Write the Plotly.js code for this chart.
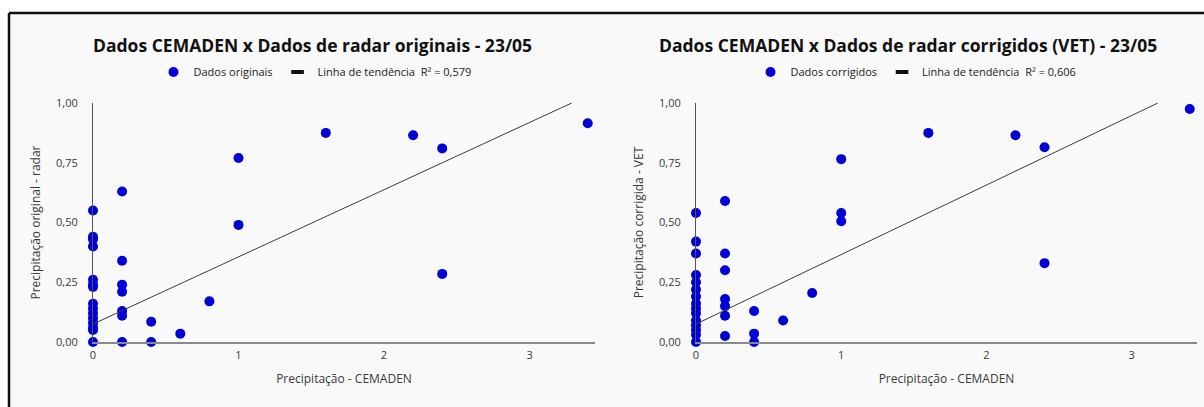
<!DOCTYPE html>
<html>
<head>
<meta charset="utf-8">
<script src="https://cdn.plot.ly/plotly-3.0.1.min.js"></script>
<style>
html,body{margin:0;padding:0;background:#ffffff;}
#chart{width:1204px;height:407px;}
</style>
</head>
<body>
<div id="chart"></div>
<script>
// ---- Data ----
// Left chart: CEMADEN vs original radar
const origX = [0,0,0,0,0,0,0,0,0,0,0,0,0,0,0,
               0.2,0.2,0.2,0.2,0.2,0.2,0.2,
               0.4,0.4, 0.6, 0.8, 1.0,1.0, 1.6, 2.2, 2.4,2.4, 3.4];
const origY = [0.55,0.44,0.43,0.40,0.26,0.24,0.23,0.16,0.14,0.12,0.10,0.08,0.06,0.05,0.0,
               0.63,0.34,0.24,0.21,0.13,0.11,0.0,
               0.085,0.0, 0.035, 0.17, 0.77,0.49, 0.875, 0.865, 0.81,0.285, 0.915];
const origTrendX = [0, 3.29];
const origTrendY = [0.075, 1.0];
const origR2 = "0,579";

// Right chart: CEMADEN vs corrected radar (VET)
const corrX = [0,0,0,0,0,0,0,0,0,0,0,0,0,0,0,
               0.2,0.2,0.2,0.2,0.2,0.2,0.2,
               0.4,0.4,0.4, 0.6, 0.8, 1.0,1.0,1.0, 1.6, 2.2, 2.4,2.4, 3.4];
const corrY = [0.54,0.42,0.37,0.28,0.25,0.22,0.19,0.16,0.14,0.12,0.09,0.07,0.05,0.03,0.0,
               0.59,0.37,0.30,0.18,0.15,0.11,0.025,
               0.13,0.035,0.0, 0.09, 0.205, 0.765,0.54,0.505, 0.875, 0.865, 0.815,0.33, 0.975];
const corrTrendX = [0, 3.18];
const corrTrendY = [0.075, 1.0];
const corrR2 = "0,606";

const xTicks = [0,1,2,3];
const yTicks = [0,0.25,0.5,0.75,1];

const titles = ["Dados CEMADEN x Dados de radar originais - 23/05",
                "Dados CEMADEN x Dados de radar corrigidos (VET) - 23/05"];
const xTitle = "Precipitação - CEMADEN";
const yTitles = ["Precipitação original - radar", "Precipitação corrigida - VET"];
const seriesNames = ["Dados originais", "Dados corrigidos"];
const trendName = "Linha de tendência";

// ---- Styling ----
const W = 1204, H = 407;
const FONT = "Open Sans, Noto Sans, sans-serif";
const DOT = "#0000d6";
const TXT = "#3a3a3a";
const px = v => v / W;
const py = v => 1 - v / H;

function pointsTrace(x, y, name, xa, ya, lg) {
  return {x: x, y: y, type: 'scatter', mode: 'markers', name: name,
    marker: {color: DOT, size: 10}, xaxis: xa, yaxis: ya, legend: lg, cliponaxis: false};
}
function trendTrace(x, y, xa, ya) {
  return {x: x, y: y, type: 'scatter', mode: 'lines', showlegend: false,
    line: {color: '#3c3c3c', width: 1}, xaxis: xa, yaxis: ya};
}
function trendKey(r2, xa, ya, lg) {
  // legend entry only (short thick dash, as in the reference)
  return {x: [null], y: [null], type: 'scatter', mode: 'markers',
    name: trendName + "  R² = " + r2,
    marker: {symbol: 'line-ew', size: 9, color: '#111', line: {color: '#111', width: 4}},
    xaxis: xa, yaxis: ya, legend: lg};
}

const traces = [
  pointsTrace(origX, origY, seriesNames[0], 'x', 'y', 'legend'),
  trendTrace(origTrendX, origTrendY, 'x', 'y'),
  trendKey(origR2, 'x', 'y', 'legend'),
  pointsTrace(corrX, corrY, seriesNames[1], 'x2', 'y2', 'legend2'),
  trendTrace(corrTrendX, corrTrendY, 'x2', 'y2'),
  trendKey(corrR2, 'x2', 'y2', 'legend2')
];

function xAxis(d0, d1, anchor) {
  return {domain: [px(d0), px(d1)], anchor: anchor, range: [0, 3.45],
    showgrid: false, zeroline: false, showline: true, linecolor: '#8a8a8a', linewidth: 1.5,
    ticks: '', tickvals: xTicks, tickfont: {family: FONT, size: 11, color: TXT},
    ticklabelstandoff: 2,
    title: {text: xTitle, font: {family: FONT, size: 12, color: TXT}, standoff: 14}};
}
function yAxis(title, anchor) {
  return {domain: [py(342), py(103)], anchor: anchor, range: [0, 1],
    showgrid: false, zeroline: false, showline: true, linecolor: '#555555', linewidth: 1,
    ticks: '', tickvals: yTicks, tickformat: '.2f',
    tickfont: {family: FONT, size: 11, color: TXT}, ticklabelstandoff: 12,
    title: {text: title, font: {family: FONT, size: 12, color: TXT}, standoff: 12}};
}

const legendBase = {orientation: 'h', xanchor: 'center', yanchor: 'middle',
  y: py(72), bgcolor: 'rgba(0,0,0,0)', font: {family: FONT, size: 11, color: '#222'},
  itemsizing: 'trace', tracegroupgap: 0};

const layout = {
  width: W, height: H,
  margin: {l: 0, r: 0, t: 0, b: 0},
  paper_bgcolor: '#f9f9f9', plot_bgcolor: '#f9f9f9',
  separators: ',.',
  showlegend: true,
  xaxis: xAxis(93, 595, 'y'),
  yaxis: yAxis(yTitles[0], 'x'),
  xaxis2: xAxis(696, 1197, 'y2'),
  yaxis2: yAxis(yTitles[1], 'x2'),
  legend: Object.assign({}, legendBase, {x: px(315)}),
  legend2: Object.assign({}, legendBase, {x: px(916)}),
  annotations: [
    {text: "<b>" + titles[0] + "</b>", xref: 'paper', yref: 'paper', x: px(312), y: py(45),
     xanchor: 'center', yanchor: 'middle', showarrow: false,
     font: {family: FONT, size: 17.5, color: '#111'}},
    {text: "<b>" + titles[1] + "</b>", xref: 'paper', yref: 'paper', x: px(908), y: py(45),
     xanchor: 'center', yanchor: 'middle', showarrow: false,
     font: {family: FONT, size: 17.5, color: '#111'}}
  ],
  shapes: [
    {type: 'rect', xref: 'paper', yref: 'paper', x0: 0, x1: 1, y0: py(13), y1: 1,
     fillcolor: '#ffffff', line: {width: 0}, layer: 'below'},
    {type: 'rect', xref: 'paper', yref: 'paper', x0: 0, x1: px(9), y0: 0, y1: 1,
     fillcolor: '#ffffff', line: {width: 0}, layer: 'below'},
    {type: 'line', xref: 'paper', yref: 'paper', x0: px(9), x1: 1, y0: py(13), y1: py(13),
     line: {color: '#111', width: 2.5}, layer: 'above'},
    {type: 'line', xref: 'paper', yref: 'paper', x0: px(9), x1: px(9), y0: 0, y1: py(13),
     line: {color: '#111', width: 2.5}, layer: 'above'}
  ]
};

Plotly.newPlot('chart', traces, layout, {displayModeBar: false, staticPlot: true});
</script>
</body>
</html>
